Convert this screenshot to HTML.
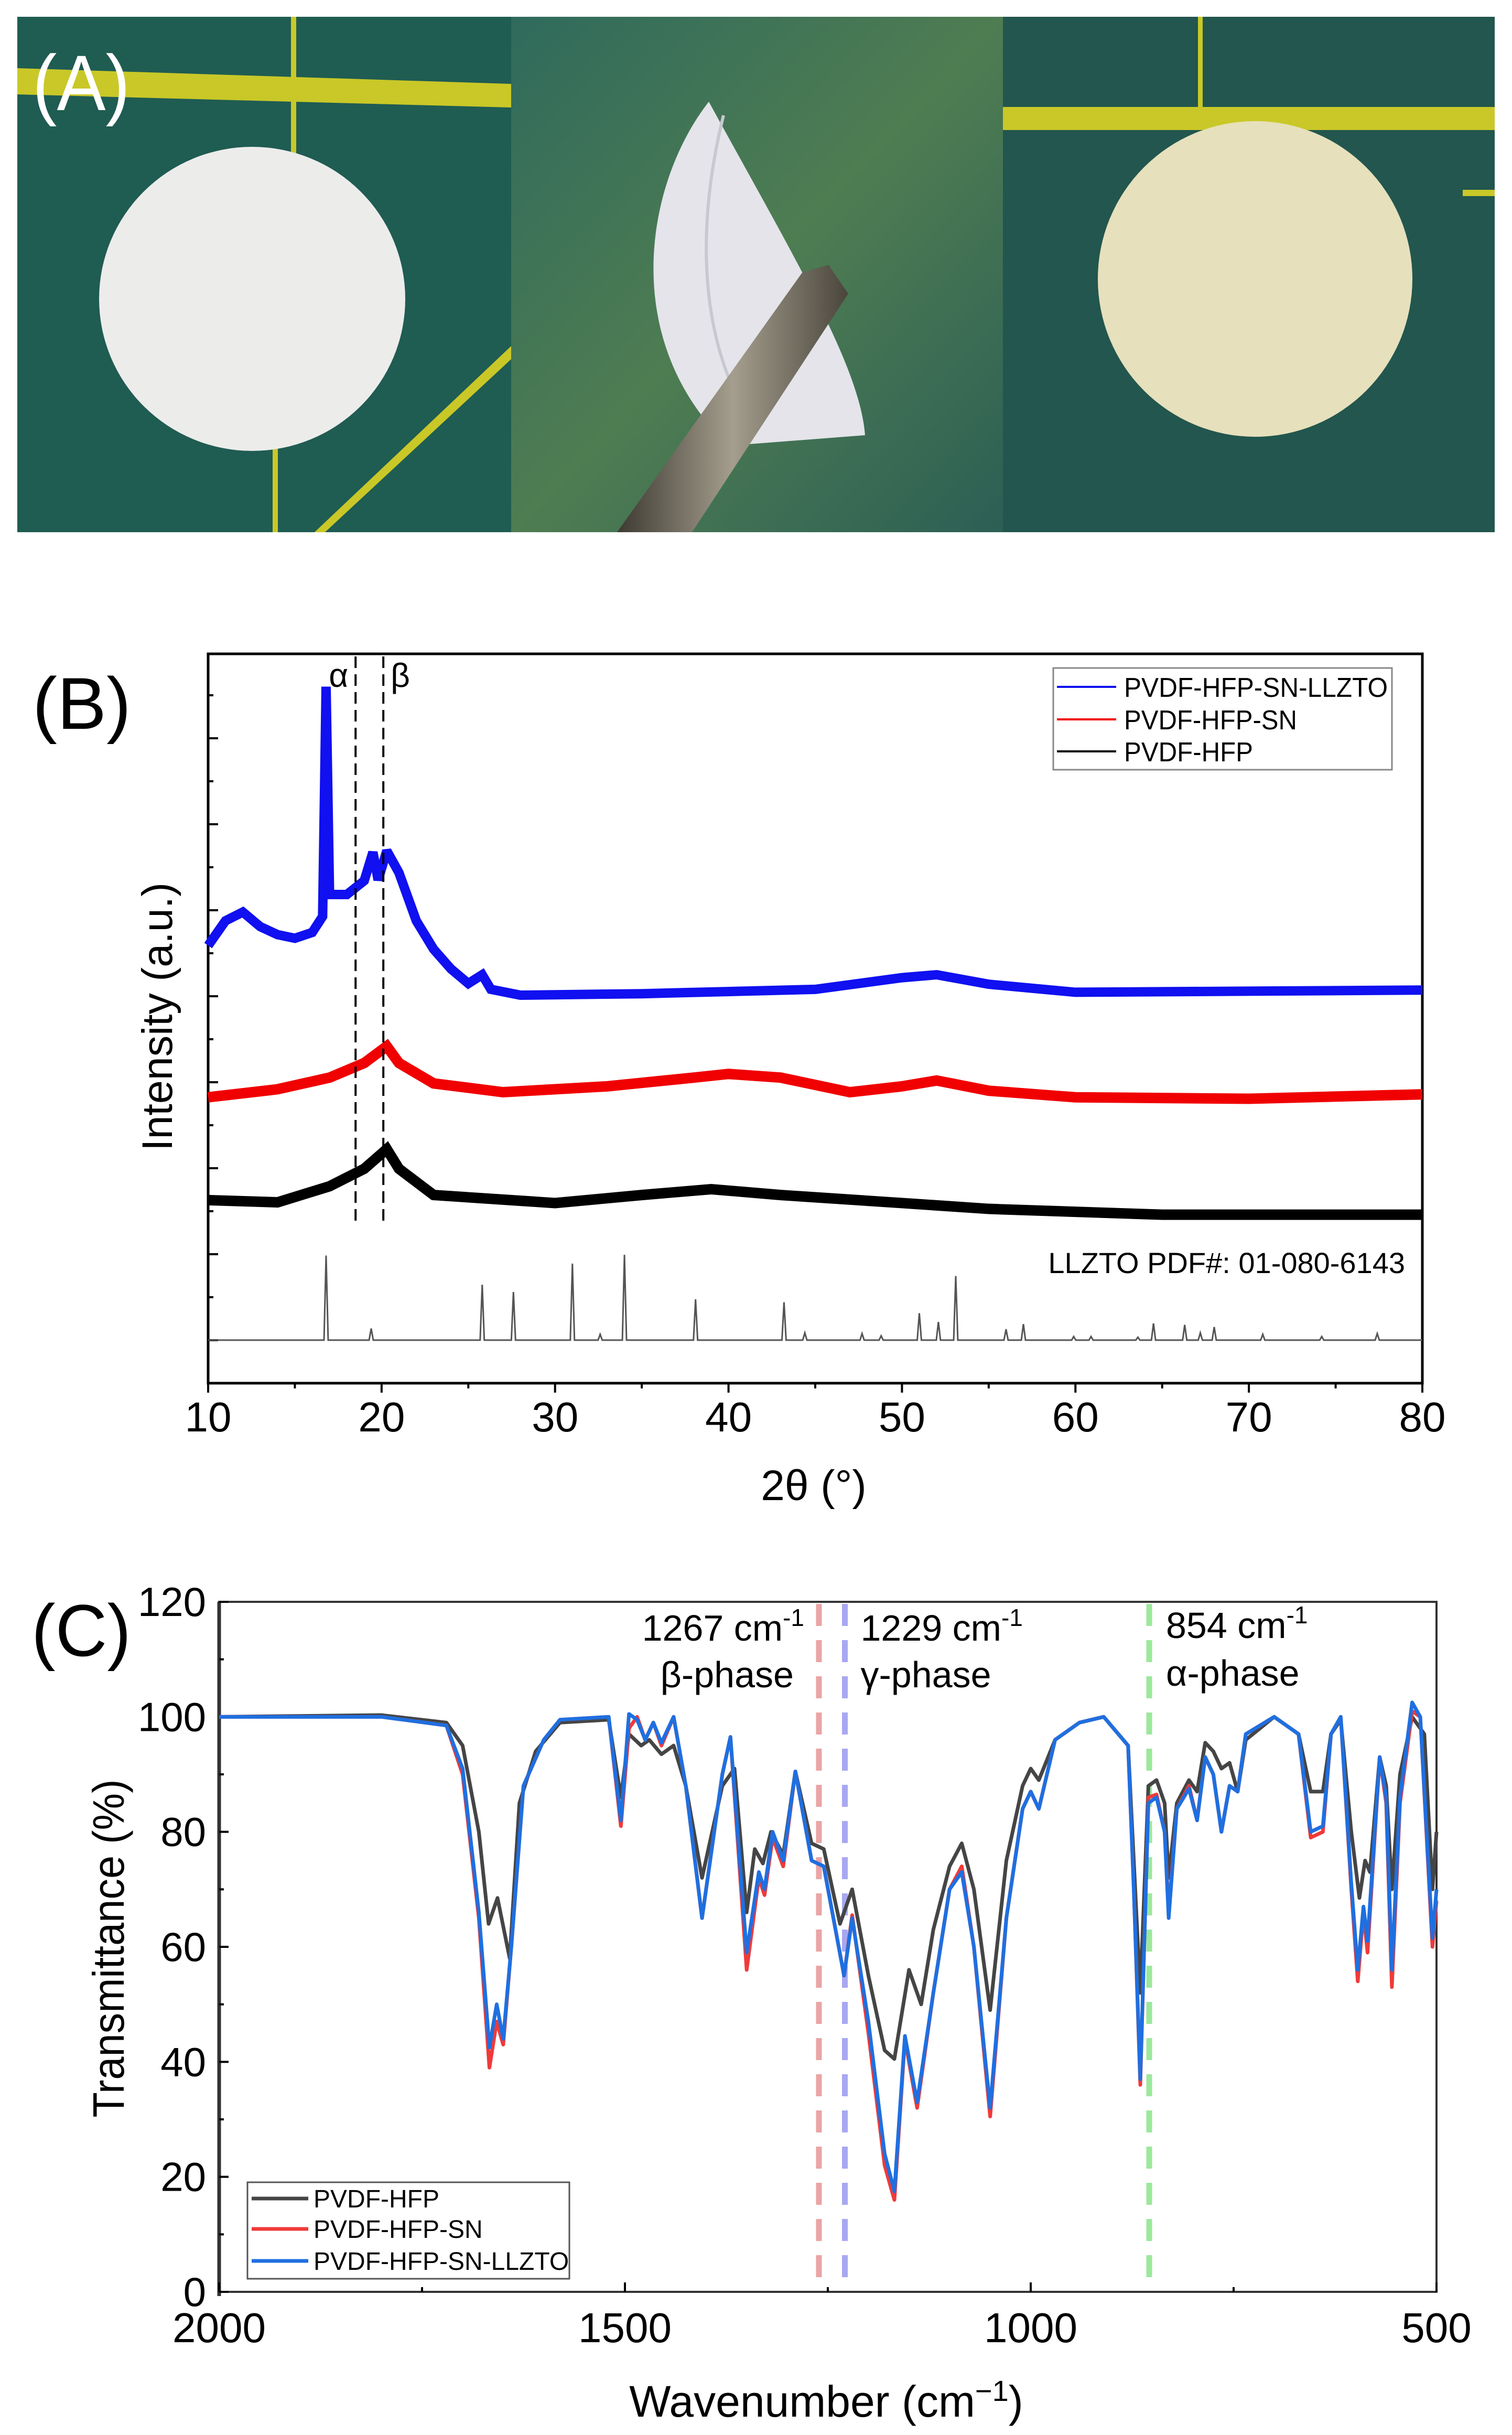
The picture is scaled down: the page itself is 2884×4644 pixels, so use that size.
<!DOCTYPE html>
<html><head><meta charset="utf-8"><style>
html,body{margin:0;padding:0;background:#fff}
svg{display:block}
text{font-family:"Liberation Sans",Arial,sans-serif;fill:#000}
</style></head><body>
<svg id="fig" width="2884" height="4644" viewBox="0 0 2884 4644" xmlns="http://www.w3.org/2000/svg">
<defs>
<linearGradient id="g2" x1="0" y1="0" x2="1" y2="1"><stop offset="0" stop-color="#2f6a5c"/><stop offset="0.5" stop-color="#4f7d52"/><stop offset="1" stop-color="#2c5f55"/></linearGradient>
<linearGradient id="metal" x1="0" y1="0" x2="1" y2="0"><stop offset="0" stop-color="#3d3a32"/><stop offset="0.5" stop-color="#a59e8e"/><stop offset="1" stop-color="#4a463c"/></linearGradient>
</defs>
<g>
 <g>
  <rect x="33" y="32" width="942" height="983" fill="#1f5c52"/>
  <polygon points="33,130 975,160 975,205 33,180" fill="#c9c828"/>
  <rect x="555" y="32" width="10" height="260" fill="#c9c828"/>
  <rect x="520" y="850" width="10" height="165" fill="#c9c828"/>
  <polygon points="600,1015 975,660 975,685 620,1015" fill="#c9c828"/>
  <ellipse cx="481" cy="570" rx="292" ry="290" fill="#ececeb"/>
 </g>
 <g>
  <rect x="975" y="32" width="938" height="983" fill="url(#g2)"/>
  <path d="M1352,194 C1230,350 1180,650 1390,850 L1650,830 C1640,700 1520,500 1352,194 Z" fill="#e4e4ea"/>
  <path d="M1380,220 C1330,420 1330,640 1430,800" stroke="#c8c8d0" stroke-width="6" fill="none"/>
  <polygon points="1177,1015 1320,1015 1618,560 1580,505 1530,520" fill="url(#metal)"/>
 </g>
 <g>
  <rect x="1913" y="32" width="938" height="983" fill="#22564e"/>
  <rect x="1913" y="204" width="938" height="44" fill="#c9c828"/>
  <rect x="2285" y="32" width="9" height="172" fill="#c9c828"/>
  <rect x="2790" y="362" width="61" height="12" fill="#c9c828"/>
  <ellipse cx="2394" cy="532" rx="300" ry="301" fill="#e6e0bc"/>
 </g>
 <text x="62" y="210" font-size="150" style="fill:#fff" textLength="186" lengthAdjust="spacingAndGlyphs">(A)</text>
</g>

<text x="62" y="1390" font-size="140" textLength="188" lengthAdjust="spacingAndGlyphs">(B)</text>
<g id="xrd"></g>

<text x="60" y="3158" font-size="140" textLength="190" lengthAdjust="spacingAndGlyphs">(C)</text>
<g id="ftir"></g>
</svg>
<script>
const xrdTicks = [10,20,30,40,50,60,70,80];
const blueT = [10,11,12,13,14,15,16,16.6,16.8,17.0,18,19,19.5,19.8,20.3,21,22,23,24,25,25.8,26.3,28,35,45,50,52,55,60,80];
const blueI = [60,63.4,64.6,62.6,61.5,61,61.8,64,95.5,67,67,68.9,72.8,69,73,70,63.4,59.5,56.8,54.8,56,54,53.2,53.4,54,55.6,56,54.7,53.6,53.9];
const redT = [10,14,17,19,20.3,21,23,27,33,38,40,43,47,50,52,55,60,70,80];
const redI = [39.2,40.3,41.9,43.9,46.2,43.9,41.1,39.9,40.7,41.9,42.4,41.9,39.9,40.7,41.5,40.1,39.2,39,39.6];
const blackT = [10,14,17,19,20.3,21,23,30,35,39,43,50,55,65,80];
const blackI = [25.1,24.8,27,29.4,32.1,29.4,25.8,24.7,25.8,26.6,25.8,24.7,23.9,23.1,23.1];
const refPos = [16.8,19.4,25.8,27.6,31.0,32.6,34.0,38.1,43.2,44.4,47.7,48.8,51.0,52.1,53.1,56.0,57.0,59.9,60.9,63.6,64.5,66.3,67.2,68.0,70.8,74.2,77.4];
const refH =   [11.6,1.6,7.6,6.6,10.5,0.8,11.7,5.6,5.2,1.0,0.9,0.6,3.7,2.5,8.8,1.5,2.2,0.5,0.5,0.4,2.3,2.1,1.0,1.8,0.8,0.5,0.9];
const refBase = 5.9;
const phaseT = [18.5, 20.1];
const phaseLbl = ["α","β"];

const wTicks = [2000,1500,1000,500];
const tTicks = [0,20,40,60,80,100,120];
const bkW = [2000,1800,1720,1700,1680,1668,1657,1642,1630,1610,1580,1520,1505,1495,1480,1470,1455,1440,1425,1405,1380,1365,1350,1340,1330,1320,1305,1290,1270,1255,1235,1220,1200,1180,1168,1150,1135,1120,1100,1085,1070,1050,1030,1010,1000,990,970,940,910,880,873,865,855,845,835,830,820,805,795,785,775,765,755,745,735,700,670,655,640,630,618,605,595,588,582,570,562,555,545,530,515,505,500];
const bkT = [100,100.3,99,95,80,64,68.5,58,85,94,99,99.5,86,97,95,96,93.5,95,88,72,88,91,66,77,74.5,80,76,90.5,78,77,64,70,55,42,40.5,56,50,63,74,78,70,49,75,88,91,89,96,99,100,95,75,52,88,89,85,72,85,89,87,95.5,94,91,92,87,96,100,97,87,87,97,99.5,80,68.5,75,73,93,88,70,90,100,97,70,80];
const rdW = [2000,1800,1720,1700,1680,1667,1658,1650,1640,1625,1600,1580,1520,1505,1495,1485,1475,1465,1455,1440,1425,1405,1380,1370,1350,1335,1328,1318,1305,1290,1270,1255,1230,1220,1200,1180,1168,1155,1140,1120,1100,1085,1070,1050,1030,1010,1000,990,970,940,910,880,873,865,855,845,835,830,820,805,795,785,775,765,755,745,735,700,670,655,640,630,618,605,597,590,585,570,562,555,545,530,520,505,500];
const rdT = [100,100,98.5,90,65,39,47,43,60,88,96,99.5,100,81,98,100,96,99,95,100,88,65,90,96.5,56,72,69,79,74,90.5,75,74,55,65.5,45,22,16,44,32,52,70,74,60,30.5,65,84,87,84,96,99,100,95,70,36,86,86.5,80,66,84,88,82,93,90,80,88,87,97,100,97,79,80,97,100,70,54,66,59,93,85,53,85,101,100,60,68];
const blW = rdW;
const blT = [100,100,98.5,91,66,42.5,50,44,60,88,96,99.5,100,82,100.5,99.5,96,99,95.5,100,88,65,90,96.5,59,73,70,80,75,90.5,75,74,55,65,47,24,17.5,44.5,33,52,70,73,60,32,65,84,87,84,96,99,100,95,70,37,85,86,80,65,84,87.5,82,93,90,80,88,87,97,100,97,80,81,97,100,71,56,67,61,93,86,56,86,102.5,100,61.5,70];
const markW = [1261,1229,854];
const markC = ["#eaa4a4","#a8a8f0","#9ce89c"];

const NS = "http://www.w3.org/2000/svg";
function mk(parent, tag, attrs, txt){
  const e = document.createElementNS(NS, tag);
  for (const k in attrs) e.setAttribute(k, attrs[k]);
  if (txt !== undefined) e.textContent = txt;
  parent.appendChild(e);
  return e;
}

(function(){
  const g = document.getElementById('xrd');
  const L=397, R=2713, T=1247, B=2638;
  const xB = t => L + (t-10)/70*(R-L);
  const yB = I => B - I*(B-T)/100;
  let e;
  e = mk(g,'rect',{x:L,y:T,width:R-L,height:B-T,fill:'none',stroke:'#000','stroke-width':5});
  
  
  for (let k=0;k<17;k++){
    const y = B - k*82;
    if (y < T+20) break;
    e = mk(g,'line',{x1:L,x2:L+(k%2?19:10),y1:y,y2:y,stroke:'#000','stroke-width':4});
    
    
  }
  xrdTicks.forEach((t,i)=>{
    e = mk(g,'line',{x1:xB(t),x2:xB(t),y1:B,y2:B+18,stroke:'#000','stroke-width':4});
    
    
    if (i<xrdTicks.length-1){
      e = mk(g,'line',{x1:xB(t+5),x2:xB(t+5),y1:B,y2:B+10,stroke:'#000','stroke-width':4});
      
      
    }
    e = mk(g,'text',{x:xB(t),y:2730,'font-size':80,'text-anchor':'middle'},String(t));
    
    
  });
  e = mk(g,'text',{x:1552,y:2861,'font-size':82,'text-anchor':'middle'},'2θ (°)');
  
  
  e = mk(g,'text',{x:0,y:0,'font-size':82,'text-anchor':'middle',transform:'translate(328,1939) rotate(-90)',textLength:512,lengthAdjust:'spacingAndGlyphs'},'Intensity (a.u.)');
  
  
  let d = 'M'+xB(10)+','+yB(refBase);
  refPos.forEach((p,i)=>{
    d += ' L'+xB(p-0.12)+','+yB(refBase)+' L'+xB(p)+','+yB(refBase+refH[i])+' L'+xB(p+0.12)+','+yB(refBase);
  });
  d += ' L'+xB(80)+','+yB(refBase);
  e = mk(g,'path',{d:d,fill:'none',stroke:'#555','stroke-width':3});
  
  
  e = mk(g,'text',{x:2680,y:2428,'font-size':56,'text-anchor':'end'},'LLZTO PDF#: 01-080-6143');
  
  
  function series(ts, is, col, w, name){
    const pts = ts.map((t,i)=>xB(t)+','+yB(is[i])).join(' ');
    const el = mk(g,'polyline',{points:pts,fill:'none',stroke:col,'stroke-width':w,'stroke-linejoin':'miter','stroke-miterlimit':2});
    
    
  }
  series(blackT, blackI, '#000', 20, 'series-pvdf-hfp');
  series(redT, redI, '#f00000', 20, 'series-pvdf-hfp-sn');
  series(blueT, blueI, '#1010f0', 18, 'series-pvdf-hfp-sn-llzto');
  phaseT.forEach((t,i)=>{
    e = mk(g,'line',{x1:xB(t),x2:xB(t),y1:T+5,y2:2330,stroke:'#000','stroke-width':4,'stroke-dasharray':'22,12'});
    
    
    e = mk(g,'text',{x:xB(t)+(i?14:-14),y:1310,'font-size':64,'text-anchor':i?'start':'end','font-family':'Liberation Serif, serif'},phaseLbl[i]);
    
    
  });
  e = mk(g,'rect',{x:2009,y:1274,width:646,height:194,fill:'#fff',stroke:'#888','stroke-width':3});
  
  
  const leg = [['PVDF-HFP-SN-LLZTO','#1010f0',1310,503],['PVDF-HFP-SN','#f00000',1372,330],['PVDF-HFP','#000',1433,246]];
  leg.forEach(l=>{
    const le = mk(g,'line',{x1:2016,x2:2129,y1:l[2],y2:l[2],stroke:l[1],'stroke-width':4});
    
    
    const lt = mk(g,'text',{x:2144,y:l[2]+19,'font-size':52,textLength:l[3],lengthAdjust:'spacingAndGlyphs'},l[0]);
    
    
  });
})();

(function(){
  const g = document.getElementById('ftir');
  const L=418, R=2740, T=3055, B=4371;
  const xC = w => L + (2000-w)/1500*(R-L);
  const yC = v => B - v*(B-T)/120;
  let e;
  e = mk(g,'rect',{x:L,y:T,width:R-L,height:B-T,fill:'none',stroke:'#333','stroke-width':4});
  
  
  e = mk(g,'line',{x1:L,x2:L,y1:T,y2:B+8,stroke:'#333','stroke-width':7});
  
  
  tTicks.forEach((v,i)=>{
    e = mk(g,'line',{x1:L,x2:L+18,y1:yC(v),y2:yC(v),stroke:'#000','stroke-width':4});
    
    
    if (i<tTicks.length-1){
      e = mk(g,'line',{x1:L,x2:L+9,y1:yC(v+10),y2:yC(v+10),stroke:'#000','stroke-width':4});
      
      
    }
    e = mk(g,'text',{x:393,y:yC(v)+27,'font-size':78,'text-anchor':'end'},String(v));
    
    
  });
  wTicks.forEach((w,i)=>{
    e = mk(g,'line',{x1:xC(w),x2:xC(w),y1:B,y2:B-18,stroke:'#000','stroke-width':4});
    
    
    if (i<wTicks.length-1){
      e = mk(g,'line',{x1:xC(w-250),x2:xC(w-250),y1:B,y2:B-9,stroke:'#000','stroke-width':4});
      
      
    }
    e = mk(g,'text',{x:xC(w),y:4467,'font-size':80,'text-anchor':'middle'},String(w));
    
    
  });
  e = mk(g,'text',{x:1576,y:4609,'font-size':84,'text-anchor':'middle'});
  
  
  e.innerHTML = 'Wavenumber (cm<tspan dy="-30" font-size="56">−1</tspan><tspan dy="30">)</tspan>';
  e = mk(g,'text',{x:0,y:0,'font-size':84,'text-anchor':'middle',transform:'translate(236,3716) rotate(-90)',textLength:645,lengthAdjust:'spacingAndGlyphs'},'Transmittance (%)');
  
  
  markW.forEach((w,i)=>{
    e = mk(g,'line',{x1:xC(w),x2:xC(w),y1:T+4,y2:B-20,stroke:markC[i],'stroke-width':11,'stroke-dasharray':'42,27'});
    
    
  });
  const ann = [
    [xC(markW[0])-28,'end',3129,3218,'1267','β-phase'],
    [xC(markW[1])+30,'start',3129,3218,'1229','γ-phase'],
    [xC(markW[2])+32,'start',3124,3215,'854','α-phase']
  ];
  ann.forEach(a=>{
    const t1 = mk(g,'text',{x:a[0],y:a[2],'font-size':70,'text-anchor':a[1]});
    
    
    t1.innerHTML = a[4]+' cm<tspan dy="-28" font-size="46">-1</tspan>';
    const t2 = mk(g,'text',{x:a[1]==='end'?a[0]-20:a[0],y:a[3],'font-size':70,'text-anchor':a[1]},a[5]);
    
    
  });
  function series(ws, ts, col, name){
    const pts = ws.map((w,i)=>xC(w)+','+yC(ts[i])).join(' ');
    const el = mk(g,'polyline',{points:pts,fill:'none',stroke:col,'stroke-width':7,'stroke-linejoin':'round'});
    
    
  }
  series(bkW, bkT, '#454545', 'series-pvdf-hfp');
  series(rdW, rdT, '#f03a3a', 'series-pvdf-hfp-sn');
  series(blW, blT, '#1f6fe0', 'series-pvdf-hfp-sn-llzto');
  e = mk(g,'rect',{x:472,y:4162,width:614,height:184,fill:'#fff',stroke:'#555','stroke-width':3});
  
  
  const leg = [['PVDF-HFP','#454545',4193],['PVDF-HFP-SN','#f03a3a',4251],['PVDF-HFP-SN-LLZTO','#1f6fe0',4312]];
  leg.forEach(l=>{
    const le = mk(g,'line',{x1:480,x2:588,y1:l[2],y2:l[2],stroke:l[1],'stroke-width':7});
    
    
    const lt = mk(g,'text',{x:598,y:l[2]+17,'font-size':48},l[0]);
    
    
  });
})();
</script>
</body></html>
